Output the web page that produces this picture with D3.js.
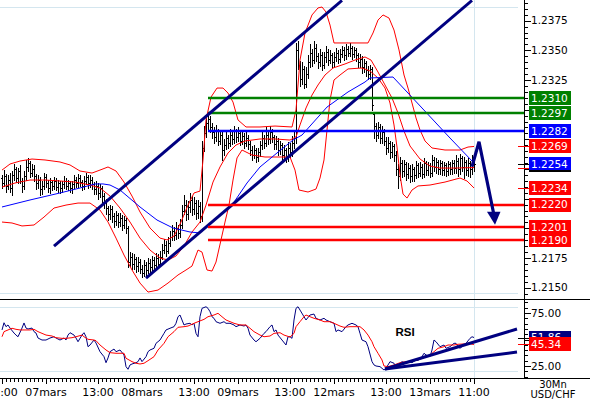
<!DOCTYPE html>
<html><head><meta charset="utf-8">
<script src="https://cdn.jsdelivr.net/npm/d3@7/dist/d3.min.js"></script>
<style>body{margin:0;background:#fff}svg{display:block}</style>
</head><body><svg id="c" width="590" height="400"></svg>
<script>
// quotes are given in 1/10000 above 1.0000 (2242 -> 1.2242); one bar = 30 minutes
const open = [2242,2238,2244,2236,2241,2234,2245,2250,2242,2248,2240,2236,2244,2252,2255,2247,2250,2244,2238,2241,2233,2236,2243,2238,2234,2239,2236,2240,2235,2238,2234,2237,2240,2236,2238,2234,2237,2241,2238,2242,2239,2236,2240,2243,2238,2241,2237,2233,2236,2230,2234,2227,2222,2217,2212,2216,2210,2206,2211,2205,2209,2203,2207,2200,2172,2176,2170,2174,2168,2172,2166,2162,2169,2165,2171,2167,2173,2169,2175,2170,2176,2182,2186,2181,2188,2193,2198,2194,2200,2196,2203,2215,2220,2212,2218,2224,2216,2221,2213,2219,2210,2268,2280,2289,2292,2285,2281,2277,2282,2274,2279,2266,2270,2276,2272,2279,2275,2282,2277,2280,2274,2278,2272,2276,2271,2266,2262,2266,2260,2264,2270,2276,2272,2279,2275,2281,2277,2271,2274,2266,2270,2262,2266,2260,2268,2264,2272,2276,2350,2338,2326,2334,2322,2330,2340,2348,2342,2352,2345,2340,2346,2338,2344,2349,2342,2346,2340,2344,2348,2343,2347,2350,2346,2351,2348,2352,2347,2350,2346,2340,2343,2336,2339,2333,2330,2334,2296,2286,2279,2285,2276,2281,2274,2268,2272,2264,2269,2262,2250,2244,2255,2248,2254,2246,2251,2244,2250,2245,2253,2247,2252,2246,2255,2249,2253,2247,2258,2252,2256,2250,2255,2249,2253,2248,2254,2250,2255,2251,2257,2250,2259,2252,2256,2249,2255,2250,2258];
const high = [2245,2249,2246,2245,2247,2248,2254,2252,2251,2253,2242,2248,2258,2259,2257,2254,2253,2246,2245,2243,2240,2247,2246,2241,2242,2241,2243,2242,2241,2240,2240,2244,2242,2241,2240,2240,2245,2243,2246,2245,2241,2244,2247,2245,2245,2243,2239,2240,2238,2237,2236,2230,2225,2219,2220,2219,2213,2215,2213,2213,2211,2210,2209,2202,2180,2179,2178,2176,2176,2174,2169,2173,2172,2175,2174,2177,2176,2179,2178,2181,2187,2191,2189,2193,2198,2203,2201,2205,2203,2208,2220,2228,2224,2223,2230,2227,2226,2224,2224,2222,2274,2286,2295,2298,2295,2289,2285,2287,2284,2283,2281,2275,2281,2279,2284,2282,2286,2284,2285,2282,2283,2280,2281,2279,2274,2269,2270,2268,2268,2274,2281,2279,2285,2282,2286,2284,2279,2278,2276,2274,2272,2270,2268,2273,2272,2278,2281,2356,2358,2341,2340,2337,2336,2346,2355,2351,2358,2355,2348,2351,2349,2349,2354,2351,2350,2348,2349,2352,2350,2351,2354,2353,2355,2354,2356,2354,2353,2352,2348,2347,2345,2343,2341,2337,2338,2336,2297,2289,2290,2288,2286,2284,2277,2277,2274,2273,2271,2265,2254,2260,2258,2258,2256,2255,2253,2254,2252,2257,2255,2256,2254,2259,2257,2256,2255,2262,2260,2259,2258,2258,2257,2256,2255,2257,2256,2258,2258,2262,2259,2263,2261,2260,2258,2259,2257,2262,2260];
const low = [2234,2236,2231,2233,2231,2228,2241,2239,2238,2238,2231,2233,2241,2248,2243,2244,2240,2233,2234,2228,2229,2233,2235,2231,2230,2232,2233,2232,2231,2230,2231,2234,2233,2232,2231,2230,2234,2235,2235,2236,2232,2233,2237,2234,2235,2233,2229,2229,2225,2226,2222,2217,2212,2207,2208,2205,2201,2203,2201,2202,2199,2200,2196,2167,2168,2166,2166,2163,2164,2162,2159,2160,2161,2162,2163,2164,2165,2166,2167,2168,2174,2179,2177,2179,2185,2190,2190,2191,2192,2193,2200,2212,2207,2208,2214,2211,2212,2208,2209,2205,2206,2265,2277,2284,2281,2276,2272,2274,2270,2271,2258,2262,2267,2268,2269,2271,2272,2273,2274,2270,2271,2268,2269,2267,2262,2258,2259,2256,2257,2261,2267,2268,2269,2271,2272,2273,2267,2267,2262,2263,2258,2257,2256,2257,2260,2261,2268,2272,2334,2320,2322,2318,2319,2327,2336,2337,2339,2341,2335,2337,2333,2335,2340,2338,2339,2336,2337,2341,2339,2340,2344,2342,2343,2345,2345,2343,2344,2341,2336,2336,2331,2332,2328,2326,2326,2300,2276,2274,2276,2272,2272,2270,2263,2264,2259,2260,2257,2245,2234,2241,2243,2244,2241,2242,2239,2240,2240,2242,2243,2244,2242,2243,2245,2245,2243,2244,2248,2247,2246,2246,2245,2245,2244,2245,2246,2246,2247,2247,2244,2246,2248,2242,2245,2244,2243,2246,2248];
const close = [2238,2244,2236,2241,2234,2245,2250,2242,2248,2240,2236,2244,2252,2255,2247,2250,2244,2238,2241,2233,2236,2243,2238,2234,2239,2236,2240,2235,2238,2234,2237,2240,2236,2238,2234,2237,2241,2238,2242,2239,2236,2240,2243,2238,2241,2237,2233,2236,2230,2234,2227,2222,2217,2212,2216,2210,2206,2211,2205,2209,2203,2207,2200,2172,2176,2170,2174,2168,2172,2166,2162,2169,2165,2171,2167,2173,2169,2175,2170,2176,2182,2186,2181,2188,2193,2198,2194,2200,2196,2203,2215,2220,2212,2218,2224,2216,2221,2213,2219,2210,2268,2280,2289,2292,2285,2281,2277,2282,2274,2279,2266,2270,2276,2272,2279,2275,2282,2277,2280,2274,2278,2272,2276,2271,2266,2262,2266,2260,2264,2270,2276,2272,2279,2275,2281,2277,2271,2274,2266,2270,2262,2266,2260,2268,2264,2272,2276,2350,2338,2326,2334,2322,2330,2340,2348,2342,2352,2345,2340,2346,2338,2344,2349,2342,2346,2340,2344,2348,2343,2347,2350,2346,2351,2348,2352,2347,2350,2346,2340,2343,2336,2339,2333,2330,2334,2304,2286,2279,2285,2276,2281,2274,2268,2272,2264,2269,2262,2250,2244,2255,2248,2254,2246,2251,2244,2250,2245,2253,2247,2252,2246,2255,2249,2253,2247,2258,2252,2256,2250,2255,2249,2253,2248,2254,2250,2255,2251,2257,2250,2259,2252,2256,2249,2255,2250,2258,2254];

// Bollinger bands and moving average, read at [bar, quote]
const bbUpper = [[0,2249.1],[4,2254.2],[9,2256.7],[15,2258.4],[21.5,2257.6],[29,2255.9],[34,2253.4],[39,2248.3],[45,2246.6],[49,2249.1],[53,2251.7],[57,2248.3],[61,2239.0],[65,2227.2],[69,2213.8],[74,2200.3],[79,2191.8],[82.5,2190.2],[86,2193.5],[89.5,2205.3],[93,2219.6],[96,2229.8],[99,2231.4],[100.5,2257.6],[102,2291.3],[104.5,2310.6],[107.5,2318.2],[110.5,2318.2],[113,2314.0],[115.5,2306.4],[118,2291.3],[122,2285.4],[129,2285.4],[136.5,2286.2],[145,2285.4],[147,2299.7],[149,2341.8],[151.5,2364.6],[155,2379.8],[158,2385.7],[160,2386.5],[162,2382.3],[164,2371.3],[166,2356.2],[174,2356.2],[183,2356.2],[185.5,2364.6],[188,2375.5],[190.5,2379.8],[193.5,2377.2],[196,2367.1],[198.5,2350.3],[201,2329.2],[203,2318.2],[205,2305.6],[207,2293.0],[209,2282.9],[211.5,2273.6],[215,2267.7],[221.5,2266.0],[229,2266.0],[233,2268.5],[236,2269.0]];
const bbMiddle = [[0,2234.8],[6.5,2238.2],[14,2240.7],[21.5,2240.7],[29,2239.9],[36.5,2239.0],[44,2236.5],[49,2234.0],[54,2227.2],[59,2217.1],[64,2205.3],[69,2191.8],[74,2181.7],[79,2175.0],[83,2173.3],[87,2176.7],[91,2185.1],[95,2196.9],[99,2205.3],[102,2219.6],[105.5,2239.0],[109,2251.7],[113,2263.5],[117,2270.2],[121.5,2273.6],[129,2275.3],[136.5,2275.3],[144,2274.4],[147,2277.0],[149,2287.1],[152,2301.4],[155,2312.3],[158,2320.8],[161.5,2329.2],[165.5,2335.1],[171.5,2338.5],[176.5,2341.8],[181.5,2344.4],[184.5,2341.8],[188,2331.7],[191.5,2320.8],[195,2309.8],[198,2297.2],[201,2282.0],[204,2269.4],[209,2258.4],[214,2252.5],[219,2250.8],[226.5,2250.8],[236,2251.2]];
const bbLower = [[0,2205.3],[5,2204.5],[10,2202.0],[16,2202.8],[21,2209.5],[26,2217.1],[32,2219.6],[38,2221.3],[44,2221.3],[49,2215.4],[53,2205.3],[57,2191.8],[61,2177.5],[65,2164.9],[69,2153.9],[73,2146.3],[78,2148.0],[83,2153.9],[88,2160.7],[92,2164.9],[95,2168.2],[98,2181.7],[100,2180.0],[102.5,2164.9],[105,2164.0],[107,2171.6],[109.5,2190.2],[111.5,2205.3],[113.5,2219.6],[115.5,2240.7],[117.5,2259.3],[120,2266.0],[125,2261.8],[131.5,2260.1],[144,2260.1],[146.5,2249.1],[148.5,2232.3],[153,2230.6],[157,2233.1],[159,2242.4],[161,2257.6],[162.5,2282.9],[164,2308.1],[166,2325.0],[169,2329.2],[173,2334.3],[180,2335.1],[184,2332.6],[188,2326.7],[191.5,2318.2],[194,2305.6],[196,2287.1],[197.5,2268.5],[199,2245.0],[200.5,2228.9],[202.5,2225.5],[205,2232.3],[208,2235.7],[214,2236.5],[221.5,2239.0],[229,2242.4],[232.5,2239.9],[236,2234.0]];
const movAvg = [[0,2218.0],[14,2223.9],[29,2229.8],[39,2234.0],[46.5,2237.4],[50.5,2237.4],[54,2236.5],[59,2232.3],[69,2218.0],[77.5,2207.0],[85.5,2200.3],[94,2196.9],[99,2196.1],[107,2208.7],[115,2219.6],[122.5,2238.2],[129,2251.7],[137.5,2263.5],[145.5,2274.4],[150,2278.6],[162.5,2302.2],[173,2314.9],[181.5,2323.3],[184,2326.7],[195.5,2327.5],[210,2301.4],[224,2276.1],[236,2255.0]];

// RSI and its signal, [bar, value]
const rsi = [[0,59.0],[1,65.8],[2,62.1],[3,63.7],[4,60.8],[6,56.1],[7,54.2],[8,52.6],[10,60.8],[11,65.6],[12,60.8],[13,59.9],[15,60.8],[16,57.4],[17,56.1],[18,51.4],[20,49.5],[22,49.5],[24,51.4],[26,52.6],[27,51.4],[29,49.5],[31,51.4],[32,49.5],[33,54.2],[34,56.4],[36,54.2],[37,51.4],[38,47.9],[40,54.2],[41,56.4],[42,52.6],[43,43.2],[44,44.8],[46,49.5],[47,46.7],[49,38.5],[51,33.8],[52,28.1],[53,32.6],[54,38.5],[56,41.0],[57,38.5],[59,40.1],[61,35.4],[62,24.4],[63,21.9],[64,26.0],[65,26.9],[67,28.1],[68,29.1],[69,32.6],[70,29.1],[72,33.8],[73,38.5],[74,40.1],[76,41.7],[77,46.4],[79,49.5],[81,55.8],[82,59.0],[84,60.6],[86,62.1],[87,65.3],[88,71.5],[89,73.1],[90,68.4],[91,63.7],[92,64.6],[94,65.3],[95,63.7],[96,65.3],[97,55.8],[98,52.6],[99,71.5],[100,79.4],[102,80.9],[103,79.4],[104,76.2],[105,71.5],[106,70.0],[107,66.8],[109,65.3],[111,66.8],[112,65.3],[114,65.3],[116,63.7],[117,62.1],[119,63.7],[121,62.7],[122,63.7],[123,60.6],[124,54.2],[126,49.5],[127,47.9],[129,51.1],[131,55.8],[132,57.4],[134,62.1],[135,63.7],[136,57.4],[137,59.0],[138,54.2],[140,49.5],[142,44.8],[143,52.6],[144,52.6],[145,51.1],[146,68.4],[147,79.4],[148,80.9],[149,77.8],[151,71.5],[152,68.4],[154,73.1],[156,74.0],[157,70.0],[159,68.4],[161,70.0],[162,68.4],[164,66.8],[166,65.3],[167,57.4],[168,59.0],[170,57.4],[172,62.1],[173,63.7],[175,65.3],[177,63.7],[178,62.1],[179,55.8],[180,49.5],[182,47.9],[183,43.2],[185,29.1],[186,26.0],[187,25.0],[189,24.4],[191,21.2],[192,22.8],[194,29.1],[196,27.6],[197,24.4],[198,26.0],[200,29.1],[202,27.6],[203,29.1],[205,28.1],[207,30.7],[208,30.0],[210,33.8],[211,37.0],[212,35.4],[214,33.8],[215,40.1],[216,49.5],[217,47.9],[219,43.2],[221,44.8],[222,41.7],[224,43.2],[226,46.4],[227,46.4],[228,43.2],[229,41.7],[231,44.8],[232,46.4],[234,51.1],[235,52.6],[236,51.86]];
const rsiSignal = [[0,52.6],[1,57.4],[3,59.0],[5,60.6],[7,59.6],[9,59.0],[12,59.0],[14,59.0],[16,59.6],[18,57.4],[20,55.8],[22,54.2],[25,53.3],[27,51.7],[30,51.1],[32,51.1],[35,51.7],[37,52.6],[40,54.2],[41,52.6],[43,50.2],[46,49.5],[47,48.9],[49,44.8],[52,40.1],[54,37.6],[57,37.0],[61,37.0],[62,32.3],[65,29.1],[67,27.6],[69,26.9],[71,27.6],[73,30.0],[76,33.8],[78,40.1],[81,46.4],[83,52.6],[86,57.4],[88,61.5],[91,62.1],[93,62.7],[96,65.3],[98,66.8],[101,69.0],[103,71.5],[106,73.1],[108,74.7],[110,71.5],[112,68.4],[116,65.3],[119,63.7],[122,63.7],[124,60.6],[126,57.4],[129,54.2],[131,52.6],[134,53.3],[136,55.8],[139,56.4],[141,54.2],[144,52.3],[146,55.8],[147,62.1],[149,66.8],[151,71.5],[152,73.1],[154,71.5],[156,70.0],[159,68.4],[161,66.8],[164,66.8],[166,65.3],[169,62.7],[171,61.5],[174,62.1],[176,62.1],[179,62.1],[181,59.0],[183,54.2],[185,47.9],[186,43.2],[188,37.0],[190,30.7],[191,25.0],[193,24.4],[196,26.0],[199,28.1],[202,29.1],[206,30.0],[209,31.3],[212,33.8],[214,35.4],[216,38.5],[218,41.7],[221,43.2],[223,44.8],[226,44.8],[228,45.5],[231,45.8],[233,46.4],[235,45.6],[236,45.34]];

// time axis labels at bar index
const timeIdx = [0,22,48,70,96,118,144,166,192,214,236];
const timeText = ["13:00","07mars","13:00","08mars","13:00","09mars","13:00","12mars","13:00","13mars","11:00"];

// annotations
const levelValues = [2310,2297,2282,2220,2201,2190];
const levelKinds  = ["green","green","blue","red","red","red"];
const levelFrom = 103;
const channelUpper = [[26,2185],[170,2392]];
const channelLower = [[72,2158],[235,2392]];
const arrowPts = [[235,2252],[238.5,2273],[246.5,2203]];
const rsiTrendA = [[191.5,22.2],[257.5,59.9]];
const rsiTrendB = [[191.5,22.2],[257.5,38.2]];
const priceTicks = [2150,2175,2200,2225,2250,2275,2300,2325,2350,2375];
const rsiTicks = [25,50,75];

const q = v => 1 + v/10000;
const COL = {green:"#008000", blue:"#0000ff", red:"#ff0000", navy:"#000080"};

const svg = d3.select("#c");
const AX = 524;
const x = d3.scaleLinear().domain([0,261]).range([2,524]);
const y = d3.scaleLinear().domain([1.21413,1.23924]).range([298,0]);
const yr = d3.scaleLinear().domain([0,100]).range([392.5,286.5]);

const defs = svg.append("defs");
defs.append("clipPath").attr("id","cm").append("rect").attr("x",0).attr("y",0).attr("width",AX).attr("height",298);
defs.append("clipPath").attr("id","cr").append("rect").attr("x",0).attr("y",300).attr("width",AX).attr("height",77);

const grid = "#d4e6ef";
[7,293,307,371].forEach(v=>svg.append("line").attr("x1",0).attr("x2",518).attr("y1",v+0.5).attr("y2",v+0.5).attr("stroke",grid));
const gx = Math.round(x(timeIdx[timeIdx.length-1]))+0.5;
svg.append("line").attr("x1",gx).attr("x2",gx).attr("y1",0).attr("y2",378).attr("stroke",grid);

const gm = svg.append("g").attr("clip-path","url(#cm)");
const gr = svg.append("g").attr("clip-path","url(#cr)");

// OHLC bars
let p = "";
for (let i=0;i<close.length;i++){
  const cx = Math.round(x(i));
  const yo = Math.round(y(q(open[i]))), yc = Math.round(y(q(close[i])));
  p += `M${cx+0.5},${Math.round(y(q(high[i])))}V${Math.round(y(q(low[i])))+1}`;
  p += `M${cx-1},${yo+0.5}H${cx}M${cx+1},${yc+0.5}H${cx+2}`;
}
gm.append("path").attr("d",p).attr("stroke","#000").attr("stroke-width",1).attr("fill","none").attr("shape-rendering","crispEdges");

const lineP = d3.line().x(d=>x(d[0])).y(d=>y(q(d[1])));
[bbUpper,bbMiddle,bbLower].forEach(b=>gm.append("path").attr("d",lineP(b)).attr("fill","none").attr("stroke",COL.red).attr("stroke-width",1));
gm.append("path").attr("d",lineP(movAvg)).attr("fill","none").attr("stroke",COL.blue).attr("stroke-width",1);

// horizontal levels
function level(k){
  const yy = Math.round(y(q(levelValues[k])));
  gm.append("line").attr("x1",x(levelFrom)).attr("x2",AX).attr("y1",yy).attr("y2",yy)
    .attr("stroke",COL[levelKinds[k]]).attr("stroke-width",2.4);
}
levelValues.forEach((v,k)=>{ if (levelKinds[k]!=="red") level(k); });
[channelUpper,channelLower].forEach(c=>gm.append("path").attr("d",lineP(c)).attr("stroke",COL.navy).attr("stroke-width",3).attr("fill","none"));
levelValues.forEach((v,k)=>{ if (levelKinds[k]==="red") level(k); });

// arrow
const tip = arrowPts[arrowPts.length-1];
const tx = x(tip[0]), ty = y(q(tip[1]));
const shaft = arrowPts.slice(0,-1).map(d=>[x(d[0]),y(q(d[1]))]).concat([[tx-1.5,ty-12]]);
svg.append("path").attr("d",d3.line()(shaft)).attr("stroke",COL.navy).attr("stroke-width",3.2).attr("fill","none");
svg.append("path").attr("d",`M${tx-8},${ty-13}L${tx+5.5},${ty-13}L${tx},${ty}Z`).attr("fill",COL.navy);

// RSI
const lineR = d3.line().x(d=>x(d[0])).y(d=>yr(d[1]));
gr.append("path").attr("d",lineR(rsi)).attr("fill","none").attr("stroke",COL.navy).attr("stroke-width",1);
gr.append("path").attr("d",lineR(rsiSignal)).attr("fill","none").attr("stroke",COL.red).attr("stroke-width",1);
[rsiTrendA,rsiTrendB].forEach(c=>gr.append("path").attr("d",lineR(c)).attr("stroke",COL.navy).attr("stroke-width",3).attr("fill","none"));
svg.append("text").attr("x",405).attr("y",336).attr("text-anchor","middle")
  .attr("font-family","Liberation Sans, Arial, sans-serif").attr("font-weight","bold").attr("font-size",11.5).text("RSI");

// frame lines
svg.append("line").attr("x1",0).attr("x2",590).attr("y1",299.5).attr("y2",299.5).attr("stroke","#000");
svg.append("line").attr("x1",0).attr("x2",590).attr("y1",378.5).attr("y2",378.5).attr("stroke","#000");
svg.append("line").attr("x1",AX+0.5).attr("x2",AX+0.5).attr("y1",0).attr("y2",378).attr("stroke","#000");

const font = "DejaVu Sans, Verdana, sans-serif";
const N = close.length;
const lastUp = Math.round(bbUpper[bbUpper.length-1][1]), lastLo = Math.round(bbLower[bbLower.length-1][1]), lastMid = bbMiddle[bbMiddle.length-1][1];
const rLast = rsi[rsi.length-1][1], sLast = rsiSignal[rsiSignal.length-1][1];
const priceBoxes = levelValues.concat([lastUp, lastLo, close[N-1]]).map(v=>y(q(v)));
const rsiBoxes = [yr(rLast), yr(sLast)];
const hidden = (yy, arr) => arr.some(b=>Math.abs(b-yy)<11);

// price axis
const tickG = svg.append("g").attr("stroke","#000").attr("shape-rendering","crispEdges");
for (let v=2145; v<=2390; v+=5){
  const yy = Math.round(y(q(v)))+0.5;
  tickG.append("line").attr("x1",AX).attr("x2",AX+(priceTicks.includes(v)?7:4)).attr("y1",yy).attr("y2",yy);
}
priceTicks.filter(v=>!hidden(y(q(v)),priceBoxes)).forEach(v=>svg.append("text").attr("x",531).attr("y",y(q(v))).attr("dy","0.36em")
  .attr("font-family",font).attr("font-size",10.5).text(d3.format(".4f")(q(v))));
for (let v=15; v<=85; v+=5){
  const yy = Math.round(yr(v))+0.5;
  tickG.append("line").attr("x1",AX).attr("x2",AX+(rsiTicks.includes(v)?7:4)).attr("y1",yy).attr("y2",yy);
}
rsiTicks.filter(v=>!hidden(yr(v),rsiBoxes)).forEach(v=>svg.append("text").attr("x",531).attr("y",yr(v)).attr("dy","0.36em")
  .attr("font-family",font).attr("font-size",10.5).text(d3.format(".2f")(v)));
// time axis
for (let i=0;i<=236;i+=2){
  const xx = Math.round(x(i))+0.5;
  tickG.append("line").attr("x1",xx).attr("x2",xx).attr("y1",379).attr("y2",timeIdx.includes(i)?384:382);
}
timeIdx.forEach((t,k)=>svg.append("text").attr("x",x(t)).attr("y",396).attr("text-anchor","middle")
  .attr("font-family",font).attr("font-size",11).text(timeText[k]));
svg.append("text").attr("x",553).attr("y",387.5).attr("text-anchor","middle").attr("font-family",font).attr("font-size",10).text("30Mn");
svg.append("text").attr("x",553).attr("y",398).attr("text-anchor","middle").attr("font-family",font).attr("font-size",10).text("USD/CHF");

// value boxes
function box(yy, fill, txt, under){
  const g = svg.append("g");
  g.append("rect").attr("x",529).attr("y",Math.round(yy)-7).attr("width",42).attr("height",14).attr("fill",fill);
  if (under) g.append("rect").attr("x",529).attr("y",Math.round(yy)+6).attr("width",42).attr("height",2).attr("fill","#000");
  g.append("text").attr("x",531).attr("y",yy).attr("dy","0.36em").attr("fill","#fff")
    .attr("font-family",font).attr("font-size",10.5).text(txt);
}
function mark(yy, col){
  svg.append("line").attr("x1",518).attr("x2",529).attr("y1",Math.round(yy)+0.5).attr("y2",Math.round(yy)+0.5)
    .attr("stroke",col).attr("shape-rendering","crispEdges");
}
mark(y(q(lastUp)), COL.red); mark(y(q(lastLo)), COL.red); mark(y(q(lastMid)), COL.red); mark(y(q(close[N-1])), "#000");
levelValues.forEach((v,k)=>box(y(q(v)), COL[levelKinds[k]], d3.format(".4f")(q(v))));
box(y(q(lastUp)), COL.red, d3.format(".4f")(q(lastUp)));
box(y(q(lastLo)), COL.red, d3.format(".4f")(q(lastLo)));
box(y(q(close[N-1])), COL.blue, d3.format(".4f")(q(close[N-1])), true);
mark(yr(rLast), "#000"); mark(yr(sLast), COL.red);
box(yr(rLast), COL.navy, d3.format(".2f")(rLast));
box(yr(sLast), COL.red, d3.format(".2f")(sLast));
</script></body></html>
